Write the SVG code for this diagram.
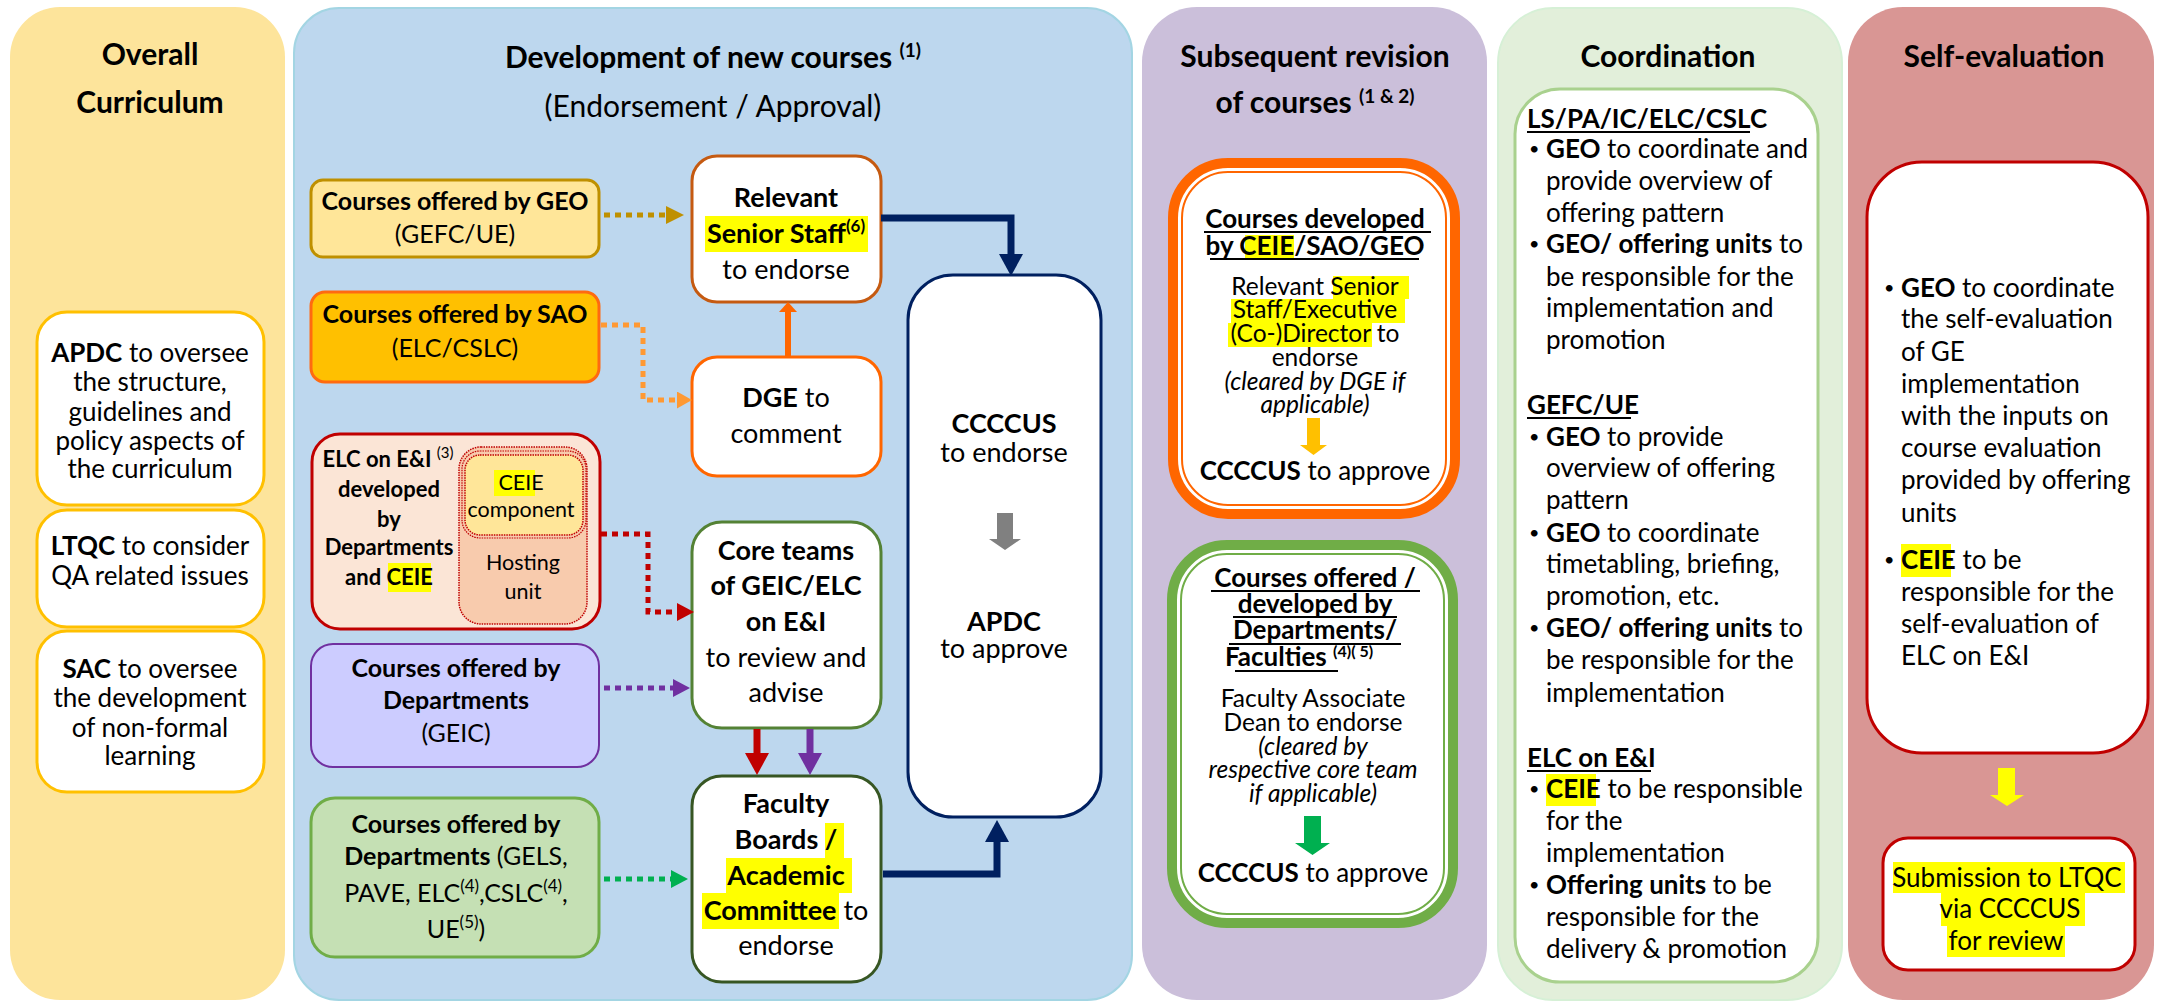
<svg xmlns="http://www.w3.org/2000/svg" width="2158" height="1005" viewBox="0 0 2158 1005">
<style>
text { font-family: Lato, "Liberation Sans", Arial, sans-serif; fill:#000; }
.b { font-weight:700; }
.r { font-weight:400; }
.i { font-style:italic; }
.c { text-anchor:middle; }
.h1 { font-size:30px; font-weight:700; }
.s30 { font-size:30px; }
.s27 { font-size:27px; }
.s26 { font-size:26px; }
.s25 { font-size:25px; }
.s24 { font-size:24.5px; }
.s22 { font-size:22px; }
.s21 { font-size:21.5px; }
.bul { font-size:18px; }
.hl { fill:#FFFF00; }
.ul { stroke:#000; stroke-width:2; }
.wb { fill:#FFFFFF; stroke-width:3; }
.dot { fill:none; stroke-width:5; stroke-dasharray:6 5; }
.sol { fill:none; stroke-linejoin:miter; stroke-linecap:butt; }
</style>
<defs>
<marker id="mGold" markerUnits="userSpaceOnUse" viewBox="0 0 18 18" markerWidth="18" markerHeight="18" refX="0" refY="9" orient="auto"><path d="M0,0 L18,9 L0,18 Z" fill="#BF9000"/></marker>
<marker id="mLOrange" markerUnits="userSpaceOnUse" viewBox="0 0 15 17" markerWidth="15" markerHeight="17" refX="0" refY="8.5" orient="auto"><path d="M0,0 L15,8.5 L0,17 Z" fill="#FF9933"/></marker>
<marker id="mRed" markerUnits="userSpaceOnUse" viewBox="0 0 17 18" markerWidth="17" markerHeight="18" refX="0" refY="9" orient="auto"><path d="M0,0 L17,9 L0,18 Z" fill="#C00000"/></marker>
<marker id="mPurple" markerUnits="userSpaceOnUse" viewBox="0 0 17 18" markerWidth="17" markerHeight="18" refX="0" refY="9" orient="auto"><path d="M0,0 L17,9 L0,18 Z" fill="#7030A0"/></marker>
<marker id="mGreen" markerUnits="userSpaceOnUse" viewBox="0 0 17 18" markerWidth="17" markerHeight="18" refX="0" refY="9" orient="auto"><path d="M0,0 L17,9 L0,18 Z" fill="#00B050"/></marker>
<marker id="mNavy" markerUnits="userSpaceOnUse" viewBox="0 0 22 24" markerWidth="22" markerHeight="24" refX="0" refY="12" orient="auto"><path d="M0,0 L22,12 L0,24 Z" fill="#002060"/></marker>
<marker id="mRedB" markerUnits="userSpaceOnUse" viewBox="0 0 22 24" markerWidth="22" markerHeight="24" refX="0" refY="12" orient="auto"><path d="M0,0 L22,12 L0,24 Z" fill="#C00000"/></marker>
<marker id="mPurpleB" markerUnits="userSpaceOnUse" viewBox="0 0 22 24" markerWidth="22" markerHeight="24" refX="0" refY="12" orient="auto"><path d="M0,0 L22,12 L0,24 Z" fill="#7030A0"/></marker>
<marker id="mOrange" markerUnits="userSpaceOnUse" viewBox="0 0 10 18" markerWidth="10" markerHeight="18" refX="0" refY="9" orient="auto"><path d="M0,0 L10,9 L0,18 Z" fill="#FF6600"/></marker>
</defs>

<!-- Panels -->
<g id="panel-overall">
<rect x="10" y="7" width="275" height="993" rx="50" fill="#FDE49B"/>
<text x="150" y="65" class="c h1">Overall</text>
<text x="150" y="113" class="c h1">Curriculum</text>
</g>
<g id="panel-development">
<rect x="294" y="8" width="838" height="992" rx="45" fill="#BDD7EE" stroke="#A3D5E3" stroke-width="2"/>
<text x="713" y="68" class="c h1">Development of new courses <tspan font-size="19" dy="-11">(1)</tspan></text>
<text x="713" y="117" class="c s30">(Endorsement / Approval)</text>
</g>
<g id="panel-revision">
<rect x="1142" y="7" width="345" height="993" rx="55" fill="#CBBFDA"/>
<text x="1315" y="67" class="c h1">Subsequent revision</text>
<text x="1315" y="113" class="c h1">of courses <tspan font-size="19" dy="-10">(1 &amp; 2)</tspan></text>
</g>
<g id="panel-coordination">
<rect x="1498" y="8" width="344" height="992" rx="55" fill="#E2EFDA" stroke="#D6F0D6" stroke-width="2"/>
<text x="1668" y="67" class="c h1">Coordination</text>
</g>
<g id="panel-selfeval">
<rect x="1848" y="7" width="306" height="993" rx="55" fill="#D99694"/>
<text x="2004" y="67" class="c h1">Self-evaluation</text>
</g>

<!-- Overall curriculum nodes -->
<g id="node-apdc-oversee">
<rect x="37" y="312" width="227" height="193" rx="30" class="wb" stroke="#FFC000"/>
<text x="150" y="362" class="c s26"><tspan class="b">APDC</tspan> to oversee</text>
<text x="150" y="391" class="c s26">the structure,</text>
<text x="150" y="421" class="c s26">guidelines and</text>
<text x="150" y="450" class="c s26">policy aspects of</text>
<text x="150" y="478" class="c s26">the curriculum</text>
</g>
<g id="node-ltqc">
<rect x="37" y="510" width="227" height="117" rx="30" class="wb" stroke="#FFC000"/>
<text x="150" y="555" class="c s26"><tspan class="b">LTQC</tspan> to consider</text>
<text x="150" y="585" class="c s26">QA related issues</text>
</g>
<g id="node-sac">
<rect x="37" y="631" width="227" height="161" rx="30" class="wb" stroke="#FFC000"/>
<text x="150" y="678" class="c s26"><tspan class="b">SAC</tspan> to oversee</text>
<text x="150" y="707" class="c s26">the development</text>
<text x="150" y="737" class="c s26">of non-formal</text>
<text x="150" y="765" class="c s26">learning</text>
</g>

<!-- Development nodes -->
<g id="node-geo">
<rect x="311" y="180" width="288" height="77" rx="12" fill="#FFE699" stroke="#BF9000" stroke-width="3"/>
<text x="455" y="210" class="c b s25">Courses offered by GEO</text>
<text x="455" y="243" class="c s25">(GEFC/UE)</text>
</g>
<g id="node-sao">
<rect x="311" y="292" width="288" height="90" rx="14" fill="#FFC000" stroke="#FF6A10" stroke-width="3"/>
<text x="455" y="323" class="c b s25">Courses offered by SAO</text>
<text x="455" y="357" class="c s25">(ELC/CSLC)</text>
</g>
<g id="node-elc">
<rect x="312" y="434" width="288" height="195" rx="28" fill="#FBE5D6" stroke="#C00000" stroke-width="3"/>
<rect x="459" y="447" width="128" height="177" rx="22" fill="#F8CBAD" stroke="#C00000" stroke-width="1.5" stroke-dasharray="1.5 1"/>
<rect x="462" y="451" width="124" height="87" rx="18" fill="none" stroke="#C00000" stroke-width="1.2" stroke-dasharray="1.5 1"/>
<rect x="465" y="455" width="118" height="80" rx="15" fill="#FFE699" stroke="#C00000" stroke-width="1.5" stroke-dasharray="1.5 1"/>
<rect x="494" y="470" width="41" height="26" class="hl"/>
<text x="521" y="490" class="c s21">CEIE</text>
<text x="521" y="517" class="c s21">component</text>
<text x="523" y="570" class="c s21">Hosting</text>
<text x="523" y="599" class="c s21">unit</text>
<rect x="388" y="563" width="43" height="29" class="hl"/>
<text x="388" y="467" class="c b s22">ELC on E&amp;I <tspan class="r" font-size="15" dy="-9">(3)</tspan></text>
<text x="389" y="497" class="c b s22">developed</text>
<text x="389" y="527" class="c b s22">by</text>
<text x="389" y="555" class="c b s22">Departments</text>
<text x="389" y="585" class="c b s22">and CEIE</text>
</g>
<g id="node-geic">
<rect x="311" y="644" width="288" height="123" rx="22" fill="#CCCCFF" stroke="#7030A0" stroke-width="2"/>
<text x="456" y="677" class="c b s25">Courses offered by</text>
<text x="456" y="709" class="c b s25">Departments</text>
<text x="456" y="742" class="c s25">(GEIC)</text>
</g>
<g id="node-dept-green">
<rect x="311" y="798" width="288" height="159" rx="24" fill="#C5E0B4" stroke="#70AD47" stroke-width="3"/>
<text x="456" y="833" class="c b s25">Courses offered by</text>
<text x="456" y="865" class="c s25"><tspan class="b">Departments</tspan> (GELS,</text>
<text x="456" y="902" class="c s25">PAVE, ELC<tspan font-size="17" dy="-10">(4)</tspan><tspan dy="10">,CSLC</tspan><tspan font-size="17" dy="-10">(4)</tspan><tspan dy="10">,</tspan></text>
<text x="456" y="938" class="c s25">UE<tspan font-size="17" dy="-10">(5)</tspan><tspan dy="10">)</tspan></text>
</g>
<g id="node-relevant">
<rect x="692" y="156" width="189" height="146" rx="25" class="wb" stroke="#C55A11"/>
<rect x="705" y="216" width="163" height="36" class="hl"/>
<text x="786" y="207" class="c b s27">Relevant</text>
<text x="786" y="243" class="c b s27">Senior Staff<tspan font-size="17" dy="-11">(6)</tspan></text>
<text x="786" y="279" class="c s27">to endorse</text>
</g>
<g id="node-dge">
<rect x="692" y="357" width="189" height="119" rx="25" class="wb" stroke="#FF6600"/>
<text x="786" y="407" class="c s27"><tspan class="b">DGE</tspan> to</text>
<text x="786" y="443" class="c s27">comment</text>
</g>
<g id="node-core">
<rect x="692" y="522" width="189" height="206" rx="30" class="wb" stroke="#548235"/>
<text x="786" y="560" class="c b s27">Core teams</text>
<text x="786" y="595" class="c b s27">of GEIC/ELC</text>
<text x="786" y="631" class="c b s27">on E&amp;I</text>
<text x="786" y="667" class="c s27">to review and</text>
<text x="786" y="702" class="c s27">advise</text>
</g>
<g id="node-faculty">
<rect x="692" y="776" width="189" height="206" rx="30" class="wb" stroke="#375623"/>
<rect x="825" y="823" width="19" height="35" class="hl"/>
<rect x="726" y="858" width="126" height="35" class="hl"/>
<rect x="702" y="893" width="137" height="36" class="hl"/>
<text x="786" y="813" class="c b s27">Faculty</text>
<text x="786" y="849" class="c b s27">Boards /</text>
<text x="786" y="885" class="c b s27">Academic</text>
<text x="786" y="920" class="c s27"><tspan class="b">Committee</tspan> to</text>
<text x="786" y="955" class="c s27">endorse</text>
</g>
<g id="node-ccccus-apdc">
<rect x="908" y="275" width="193" height="542" rx="45" class="wb" stroke="#002060"/>
<text x="1004" y="433" class="c b s27">CCCCUS</text>
<text x="1004" y="462" class="c s27">to endorse</text>
<text x="1004" y="631" class="c b s27">APDC</text>
<text x="1004" y="658" class="c s27">to approve</text>
</g>

<!-- Revision nodes -->
<g id="node-rev-ceie">
<rect x="1173" y="163" width="282" height="351" rx="55" fill="#FFFFFF" stroke="#FF6600" stroke-width="10"/>
<rect x="1182" y="172" width="264" height="333" rx="46" fill="none" stroke="#FF6600" stroke-width="2"/>
<rect x="1245" y="235" width="49" height="23" class="hl"/>
<rect x="1333" y="276" width="76" height="23" class="hl"/>
<rect x="1231" y="299" width="174" height="24" class="hl"/>
<rect x="1228" y="323" width="144" height="24" class="hl"/>
<text x="1315" y="228" class="c b s26">Courses developed</text>
<text x="1315" y="255" class="c b s26">by CEIE/SAO/GEO</text>
<line x1="1204" y1="232" x2="1431" y2="232" class="ul"/>
<line x1="1210" y1="259" x2="1419" y2="259" class="ul"/>
<text x="1315" y="295" class="c s24">Relevant Senior</text>
<text x="1315" y="318" class="c s24">Staff/Executive</text>
<text x="1315" y="342" class="c s24">(Co-)Director to</text>
<text x="1315" y="366" class="c s24">endorse</text>
<text x="1315" y="390" class="c i s24">(cleared by DGE if</text>
<text x="1315" y="413" class="c i s24">applicable)</text>
<text x="1315" y="480" class="c s26"><tspan class="b">CCCCUS</tspan> to approve</text>
</g>
<g id="node-rev-dept">
<rect x="1172" y="545" width="281" height="378" rx="55" fill="#FFFFFF" stroke="#70AD47" stroke-width="10"/>
<rect x="1181" y="554" width="263" height="360" rx="46" fill="none" stroke="#70AD47" stroke-width="2"/>
<text x="1315" y="587" class="c b s26">Courses offered /</text>
<text x="1315" y="613" class="c b s26">developed by</text>
<text x="1315" y="639" class="c b s26">Departments/</text>
<text x="1299" y="666" class="c b s26">Faculties <tspan font-size="16" dy="-9">(4)( 5)</tspan></text>
<line x1="1211" y1="591" x2="1420" y2="591" class="ul"/>
<line x1="1233" y1="617" x2="1397" y2="617" class="ul"/>
<line x1="1229" y1="644" x2="1401" y2="644" class="ul"/>
<line x1="1235" y1="671" x2="1338" y2="671" class="ul"/>
<text x="1313" y="707" class="c s24">Faculty Associate</text>
<text x="1313" y="731" class="c s24">Dean to endorse</text>
<text x="1313" y="755" class="c i s24">(cleared by</text>
<text x="1313" y="778" class="c i s24">respective core team</text>
<text x="1313" y="802" class="c i s24">if applicable)</text>
<text x="1313" y="882" class="c s26"><tspan class="b">CCCCUS</tspan> to approve</text>
</g>

<!-- Coordination node -->
<g id="node-coordination">
<rect x="1515" y="89" width="303" height="893" rx="45" class="wb" stroke="#A9D18E"/>
<rect x="1546" y="774" width="50" height="32" class="hl"/>
<text x="1527" y="128" class="b s26">LS/PA/IC/ELC/CSLC</text>
<line x1="1527" y1="132" x2="1750" y2="132" class="ul"/>
<text x="1529" y="155" class="bul">•</text>
<text x="1546" y="158" class="s26"><tspan class="b">GEO</tspan> to coordinate and</text>
<text x="1546" y="190" class="s26">provide overview of</text>
<text x="1546" y="222" class="s26">offering pattern</text>
<text x="1529" y="250" class="bul">•</text>
<text x="1546" y="253" class="s26"><tspan class="b">GEO/ offering units</tspan> to</text>
<text x="1546" y="286" class="s26">be responsible for the</text>
<text x="1546" y="317" class="s26">implementation and</text>
<text x="1546" y="349" class="s26">promotion</text>
<text x="1527" y="414" class="b s26">GEFC/UE</text>
<line x1="1527" y1="418" x2="1631" y2="418" class="ul"/>
<text x="1529" y="443" class="bul">•</text>
<text x="1546" y="446" class="s26"><tspan class="b">GEO</tspan> to provide</text>
<text x="1546" y="477" class="s26">overview of offering</text>
<text x="1546" y="509" class="s26">pattern</text>
<text x="1529" y="539" class="bul">•</text>
<text x="1546" y="542" class="s26"><tspan class="b">GEO</tspan> to coordinate</text>
<text x="1546" y="573" class="s26">timetabling, briefing,</text>
<text x="1546" y="605" class="s26">promotion, etc.</text>
<text x="1529" y="634" class="bul">•</text>
<text x="1546" y="637" class="s26"><tspan class="b">GEO/ offering units</tspan> to</text>
<text x="1546" y="669" class="s26">be responsible for the</text>
<text x="1546" y="702" class="s26">implementation</text>
<text x="1527" y="767" class="b s26">ELC on E&amp;I</text>
<line x1="1527" y1="771" x2="1651" y2="771" class="ul"/>
<text x="1529" y="795" class="bul">•</text>
<text x="1546" y="798" class="s26"><tspan class="b">CEIE</tspan> to be responsible</text>
<text x="1546" y="830" class="s26">for the</text>
<text x="1546" y="862" class="s26">implementation</text>
<text x="1529" y="891" class="bul">•</text>
<text x="1546" y="894" class="s26"><tspan class="b">Offering units</tspan> to be</text>
<text x="1546" y="926" class="s26">responsible for the</text>
<text x="1546" y="958" class="s26">delivery &amp; promotion</text>
</g>

<!-- Self-evaluation nodes -->
<g id="node-selfeval">
<rect x="1867" y="162" width="281" height="591" rx="55" class="wb" stroke="#C00000"/>
<rect x="1901" y="544" width="50" height="33" class="hl"/>
<text x="1884" y="294" class="bul">•</text>
<text x="1901" y="297" class="s26"><tspan class="b">GEO</tspan> to coordinate</text>
<text x="1901" y="328" class="s26">the self-evaluation</text>
<text x="1901" y="361" class="s26">of GE</text>
<text x="1901" y="393" class="s26">implementation</text>
<text x="1901" y="425" class="s26">with the inputs on</text>
<text x="1901" y="457" class="s26">course evaluation</text>
<text x="1901" y="489" class="s26">provided by offering</text>
<text x="1901" y="522" class="s26">units</text>
<text x="1884" y="566" class="bul">•</text>
<text x="1901" y="569" class="s26"><tspan class="b">CEIE</tspan> to be</text>
<text x="1901" y="601" class="s26">responsible for the</text>
<text x="1901" y="633" class="s26">self-evaluation of</text>
<text x="1901" y="665" class="s26">ELC on E&amp;I</text>
</g>
<g id="node-submission">
<rect x="1883" y="838" width="252" height="132" rx="25" class="wb" stroke="#C00000"/>
<rect x="1893" y="862" width="232" height="31" class="hl"/>
<rect x="1941" y="893" width="144" height="33" class="hl"/>
<rect x="1947" y="926" width="118" height="31" class="hl"/>
<text x="2007" y="887" class="c s26">Submission to LTQC</text>
<text x="2010" y="918" class="c s26">via CCCCUS</text>
<text x="2006" y="950" class="c s26">for review</text>
</g>

<!-- Connectors -->
<g id="connectors">
<path d="M604,215 H666" class="dot" stroke="#BF9000" marker-end="url(#mGold)"/>
<path d="M601,325 H643 V400 H677" class="dot" stroke="#FF9933" marker-end="url(#mLOrange)"/>
<path d="M601,534 H648 V612 H677" class="dot" stroke="#C00000" marker-end="url(#mRed)"/>
<path d="M604,688 H673" class="dot" stroke="#7030A0" marker-end="url(#mPurple)"/>
<path d="M604,879 H671" class="dot" stroke="#00B050" marker-end="url(#mGreen)"/>
<path d="M788,357 V312" class="sol" stroke="#FF6600" stroke-width="6" marker-end="url(#mOrange)"/>
<path d="M881,218 H1011 V254" class="sol" stroke="#002060" stroke-width="7" marker-end="url(#mNavy)"/>
<path d="M883,874 H997 V842" class="sol" stroke="#002060" stroke-width="7" marker-end="url(#mNavy)"/>
<path d="M757,729 V753" class="sol" stroke="#C00000" stroke-width="7" marker-end="url(#mRedB)"/>
<path d="M810,729 V753" class="sol" stroke="#7030A0" stroke-width="7" marker-end="url(#mPurpleB)"/>
<polygon points="997,513 1013,513 1013,539 1021,539 1005,550 989,539 997,539" fill="#808080"/>
<polygon points="1307,418 1320,418 1320,445 1327,445 1313.5,455 1300,445 1307,445" fill="#FFC000"/>
<polygon points="1304,816 1321,816 1321,843 1330,843 1312.5,855 1295,843 1304,843" fill="#00B050"/>
<polygon points="1998,768 2015,768 2015,795 2024,795 2007,806 1990,795 1998,795" fill="#FFFF00"/>
</g>
</svg>
